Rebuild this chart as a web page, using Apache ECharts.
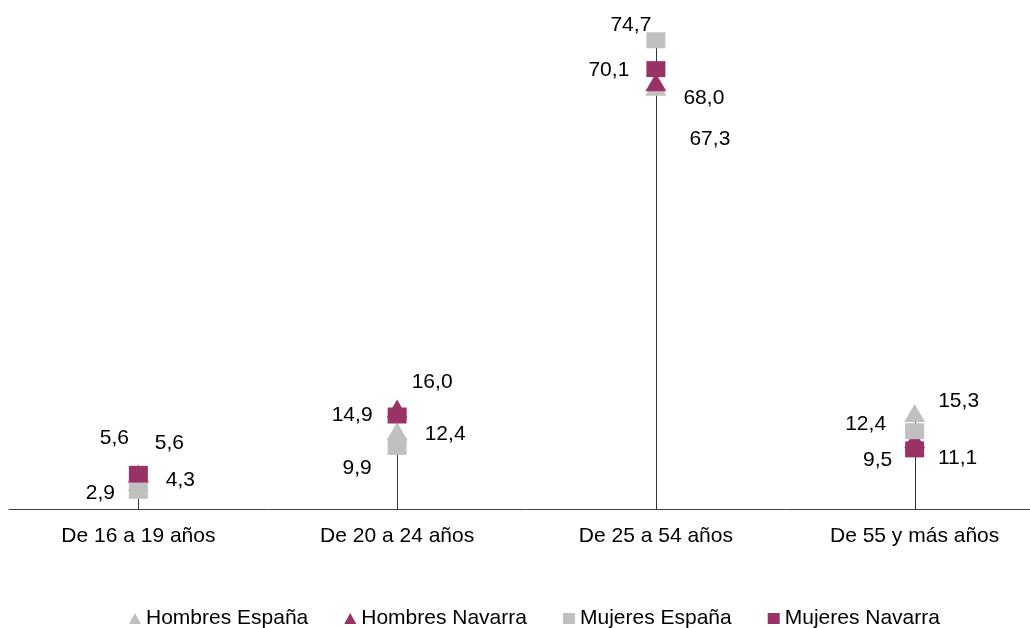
<!DOCTYPE html>
<html>
<head>
<meta charset="utf-8">
<script src="https://cdn.jsdelivr.net/npm/echarts@6/dist/echarts.min.js"></script>
<style>
html,body{margin:0;padding:0;background:#fff;overflow:hidden;}
#c{width:1044px;height:628px;}
</style>
</head>
<body>
<div id="c"></div>
<script>
// ---- data ----
var categories = ['De 16 a 19 años', 'De 20 a 24 años', 'De 25 a 54 años', 'De 55 y más años'];
var hombresEspana  = [4.3, 12.4, 67.3, 15.3];
var hombresNavarra = [5.6, 16.0, 68.0, 11.1];
var mujeresEspana  = [2.9, 9.9, 74.7, 12.4];
var mujeresNavarra = [5.6, 14.9, 70.1, 9.5];
var seriesNames = ['Hombres España', 'Hombres Navarra', 'Mujeres España', 'Mujeres Navarra'];

// ---- layout: label offsets (px) relative to marker centre ----
var offHE = [[42, -2], [48, 3], [54, 53], [44, -12]];
var offHN = [[31, -31], [35, -26], [48, 16], [43, 19]];
var offME = [[-38, 2], [-40, 21], [-25, -15], [-49, -7]];
var offMN = [[-24, -36], [-45, 0], [-47, 1], [-37, 11]];

var GRAY = '#c0c0c0', MAROON = '#993366';
var FONT = '"Liberation Sans", Arial, sans-serif';

function fmt(v) { return v.toFixed(1).replace('.', ','); }
var maxVals = categories.map(function (c, i) {
  return Math.max(hombresEspana[i], hombresNavarra[i], mujeresEspana[i], mujeresNavarra[i]);
});

function pointSeries(name, vals, offs, symbol, size, color) {
  return {
    name: name, type: 'scatter',
    data: vals.map(function (v, i) { return [i, v]; }),
    symbol: symbol, symbolSize: size,
    itemStyle: { color: color, opacity: 1 },
    emphasis: { disabled: true },
    label: {
      show: true, position: 'inside', color: '#000',
      fontFamily: FONT, fontSize: 21,
      formatter: function (p) { return fmt(p.value[1]); }
    },
    labelLayout: function (p) {
      var o = offs[p.dataIndex];
      return { dx: o[0], dy: o[1], hideOverlap: false };
    },
    animation: false
  };
}

var chart = echarts.init(document.getElementById('c'));
chart.setOption({
  animation: false,
  grid: { left: 9, right: 0, top: 7, bottom: 119, containLabel: false },
  xAxis: {
    type: 'category', data: categories,
    axisTick: { show: false },
    axisLine: { lineStyle: { color: '#404040', width: 1 } },
    axisLabel: { color: '#000', fontFamily: FONT, fontSize: 21, margin: 17 }
  },
  yAxis: { type: 'value', min: 0, max: 80, show: false, splitLine: { show: false } },
  legend: {
    top: 603, left: 124, itemGap: 36, itemWidth: 12, itemHeight: 11,
    textStyle: { color: '#000', fontFamily: FONT, fontSize: 21 },
    data: [
      { name: seriesNames[0], icon: 'triangle' },
      { name: seriesNames[1], icon: 'triangle' },
      { name: seriesNames[2], icon: 'rect' },
      { name: seriesNames[3], icon: 'rect' }
    ]
  },
  series: [
    {
      type: 'custom', name: 'drop', data: maxVals.map(function (v, i) { return [i, v]; }),
      silent: true, z: 1,
      renderItem: function (params, api) {
        var a = api.coord([api.value(0), 0]);
        var b = api.coord([api.value(0), api.value(1)]);
        return { type: 'line', shape: { x1: Math.round(a[0]) + 0.5, y1: a[1], x2: Math.round(b[0]) + 0.5, y2: b[1] },
                 style: { stroke: '#333333', lineWidth: 1 } };
      }
    },
    pointSeries(seriesNames[0], hombresEspana, offHE, 'triangle', [21, 18], GRAY),
    pointSeries(seriesNames[1], hombresNavarra, offHN, 'triangle', [21, 18], MAROON),
    pointSeries(seriesNames[2], mujeresEspana, offME, 'rect', [19, 16], GRAY),
    pointSeries(seriesNames[3], mujeresNavarra, offMN, 'rect', [19, 16], MAROON)
  ]
});
</script>
</body>
</html>
